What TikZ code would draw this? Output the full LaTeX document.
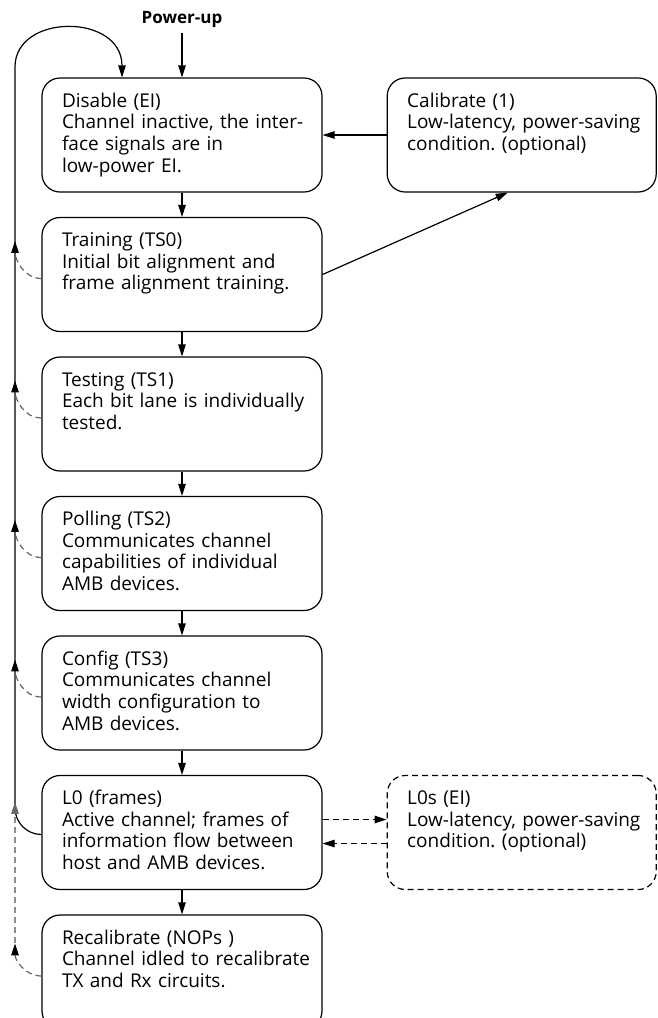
\documentclass[tikz,border=0pt]{standalone}
\usepackage{fontspec}
\setmainfont{Open Sans}
\usetikzlibrary{positioning,arrows.meta}
\frenchspacing
\newcommand\statetext[1]{\begin{tabular}[t]{@{}l@{}}#1\end{tabular}}
\tikzset{
  state/.style={draw,line width=1.2pt,rounded corners=18pt,text width=240pt,inner xsep=20pt,inner ysep=0pt,
    text height=29pt,text depth=85pt,font=\fontsize{19}{21.7}\selectfont},
  side/.style={state,text width=229pt},
  arr/.style={line width=1.2pt,-{Triangle[length=12pt,width=7.5pt]}},
  fb/.style={line width=1.2pt,draw=black!60,dash pattern=on 6pt off 4pt,-{Triangle[length=12pt,width=7.5pt,color=black]}},
  dsh/.style={arr,dash pattern=on 6pt off 4pt},
}
\begin{document}
\begin{tikzpicture}[x=1pt,y=-1pt,node distance=24.3pt]
    \useasboundingbox (0,0) rectangle (657,1018);
    %% states
    \node[font=\bfseries\fontsize{17}{20}\selectfont] (pwr) at (182,19) {Power-up};
    \node[state] (dis) at (182,135) {\statetext{Disable (EI)\\Channel inactive, the inter-\\face signals are in\\low-power EI.}};
    \node[state,below=of dis] (trn) {\statetext{Training (TS0)\\Initial bit alignment and\\frame alignment training.}};
    \node[state,below=of trn] (tst) {\statetext{Testing (TS1)\\Each bit lane is individually\\tested.}};
    \node[state,below=of tst] (pol) {\statetext{Polling (TS2)\\Communicates channel\\capabilities of individual\\AMB devices.}};
    \node[state,below=of pol] (cfg) {\statetext{Config (TS3)\\Communicates channel\\width configuration to\\AMB devices.}};
    \node[state,below=of cfg] (l0) {\statetext{L0 (frames)\\Active channel; frames of\\information flow between\\host and AMB devices.}};
    \node[state,below=of l0] (rcl) {\statetext{Recalibrate (NOPs )\\Channel idled to recalibrate\\TX and Rx circuits.}};
    \node[side,right=64pt of dis] (cal) {\statetext{Calibrate (1)\\Low-latency, power-saving\\condition. (optional)}};
    \node[side,dash pattern=on 6pt off 4pt,right=64pt of l0] (l0s) {\statetext{L0s (EI)\\Low-latency, power-saving\\condition. (optional)}};
    %% forward transitions
    \draw[arr,shorten <=2pt] (pwr) -- (dis);
    \foreach \a/\b in {dis/trn,trn/tst,tst/pol,pol/cfg,cfg/l0,l0/rcl} \draw[arr] (\a) -- (\b);
    \draw[arr] (cal) -- (dis);
    \draw[arr] (trn.east) -- ([xshift=-14pt]cal.south);
    \draw[dsh] ([yshift=13pt]l0.east) -- ([yshift=13pt]l0s.west);
    \draw[dsh] ([yshift=-11pt]l0s.west) -- ([yshift=-11pt]l0.east);
    %% return rail on the left
    \coordinate (rail) at (15,0);
    \coordinate (top) at (15,67);
    \coordinate (join) at ([yshift=-33pt]rail |- l0.north);
    \coordinate (tipL) at ([yshift=-27pt]rail |- l0.north);
    \coordinate (tipR) at ([yshift=-29pt]rail |- rcl.north);
    \draw[arr] ([yshift=-2pt]l0.west) to[out=180,in=-90] (join) -- (top)
        .. controls (15,13) and (122,13) .. ([xshift=-60pt]dis.north);
    \foreach \s in {trn,tst,pol,cfg}
        \draw[fb] ([yshift=-4pt]\s.west) to[out=180,in=-90] ([yshift=-24pt]rail |- \s.north);
    \draw[fb] ([yshift=-4pt]rcl.west) to[out=180,in=-90] (tipR);
    \draw[fb,draw=black!45,-{Triangle[length=12pt,width=7.5pt,color=black!60]}] (tipR) -- (tipL);
\end{tikzpicture}
\end{document}
